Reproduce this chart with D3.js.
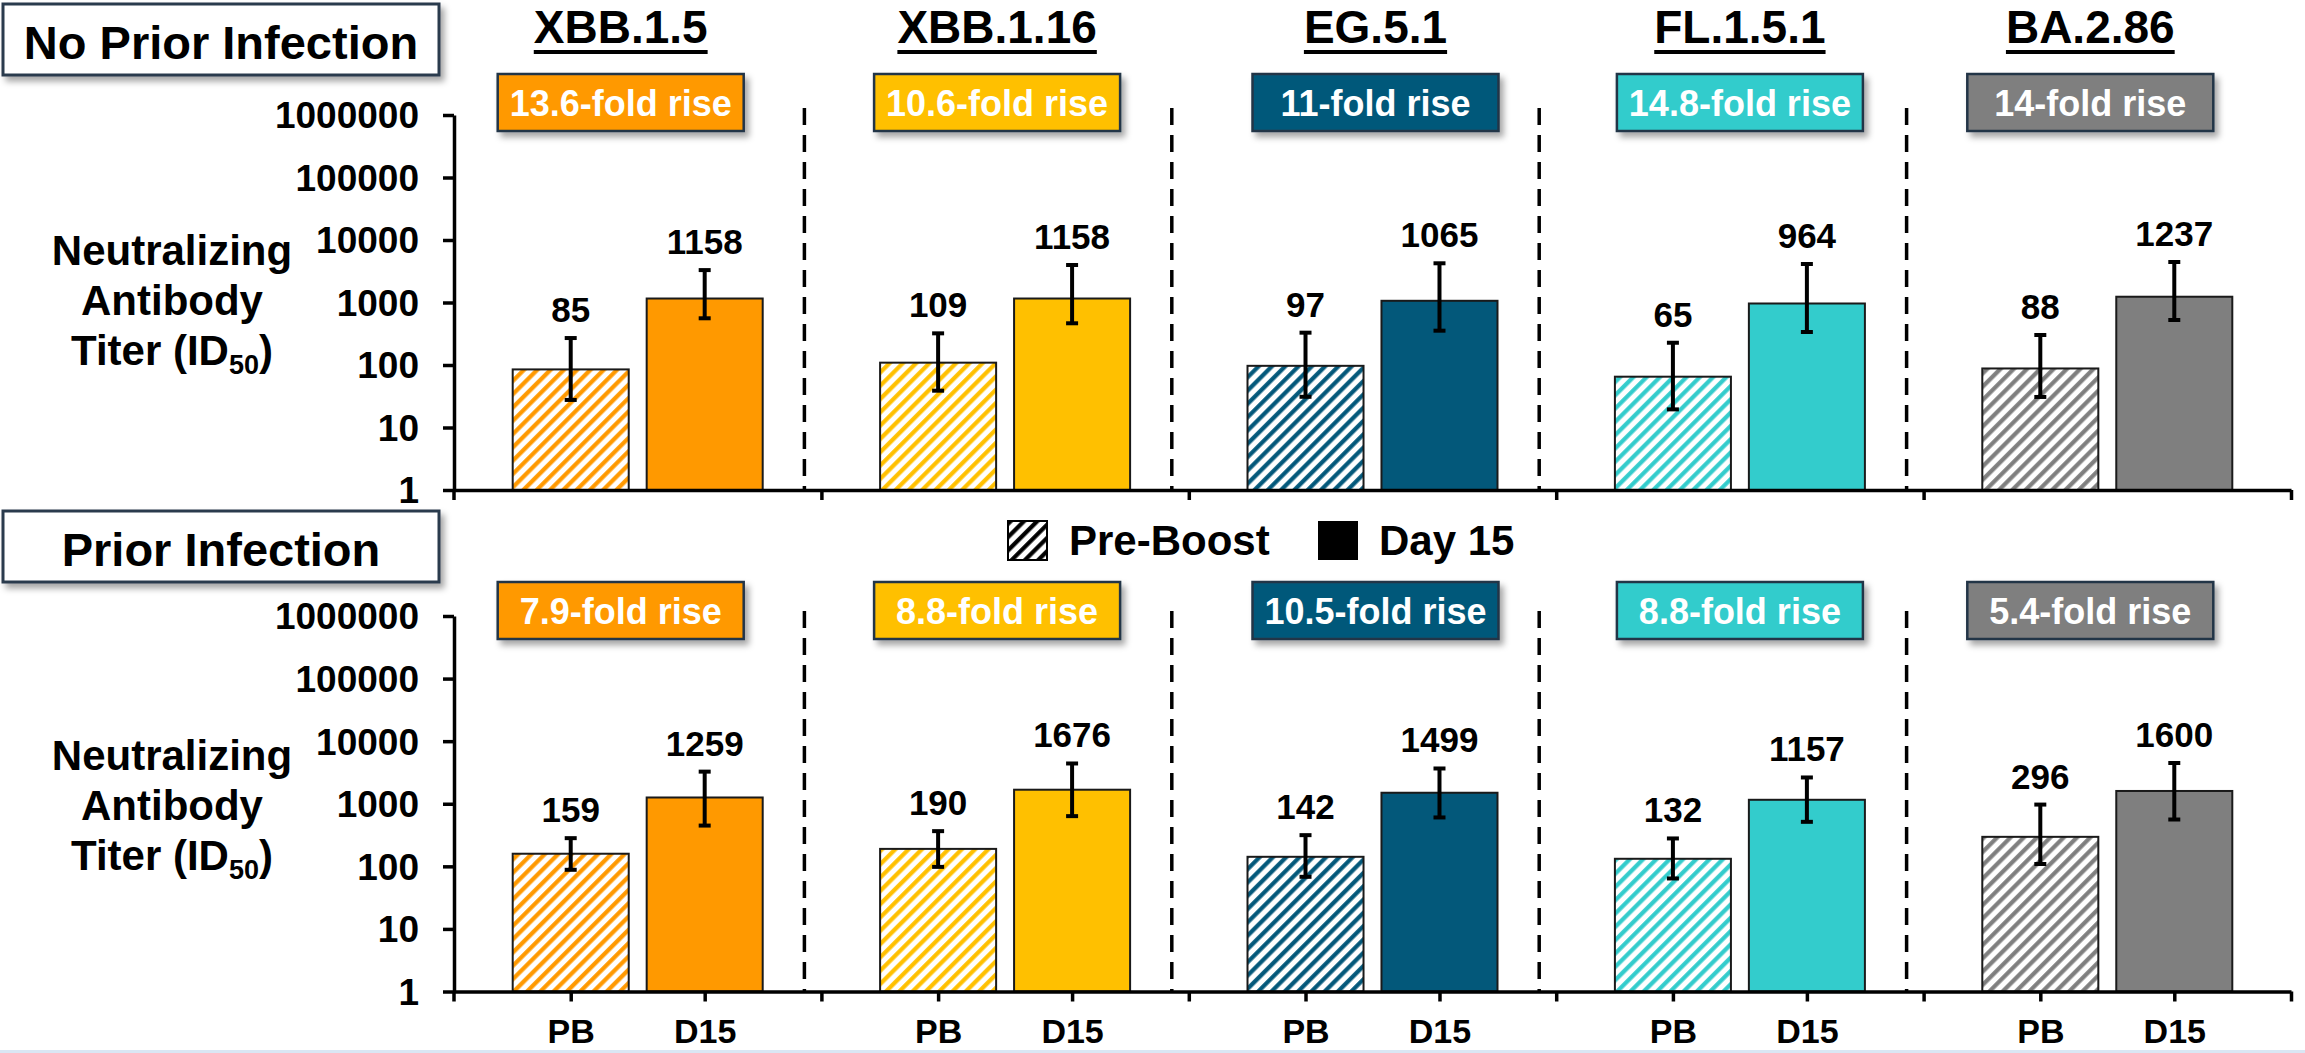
<!DOCTYPE html>
<html>
<head>
<meta charset="utf-8">
<script src="https://cdn.jsdelivr.net/npm/d3@7"></script>
<style>
  html, body { margin: 0; padding: 0; background: #ffffff; }
  svg { display: block; }
  text { font-family: "Liberation Sans", Arial, Helvetica, sans-serif; font-weight: bold; }
</style>
</head>
<body>
<svg id="chart" width="2305" height="1053"></svg>
<script>
// ---- data ----
const variants = ["XBB.1.5", "XBB.1.16", "EG.5.1", "FL.1.5.1", "BA.2.86"];
const timepoints = ["PB", "D15"];
const variantColors = ["#FF9900", "#FFC000", "#03587A", "#33CCCC", "#7F7F7F"];
const yTicks = [1, 10, 100, 1000, 10000, 100000, 1000000];

// No prior infection: geometric mean titers and error-bar ends
const noPriorPB = [85, 109, 97, 65, 88];
const noPriorPBLow = [27.6, 38.8, 31, 19.5, 30.8];
const noPriorPBHigh = [270, 321, 329, 227, 302];
const noPriorD15 = [1158, 1158, 1065, 964, 1237];
const noPriorD15Low = [559, 465, 354, 337, 525];
const noPriorD15High = [3300, 3980, 4240, 4130, 4446];
const noPriorFold = ["13.6", "10.6", "11", "14.8", "14"];

// Prior infection
const priorPB = [159, 190, 142, 132, 296];
const priorPBLow = [88, 98, 68, 64, 109];
const priorPBHigh = [282, 365, 315, 279, 970];
const priorD15 = [1259, 1676, 1499, 1157, 1600];
const priorD15Low = [448, 634, 604, 514, 560];
const priorD15High = [3260, 4400, 3660, 2630, 4480];
const priorFold = ["7.9", "8.8", "10.5", "8.8", "5.4"];

// ---- layout ----
const X0 = 454, X1 = 2291;
const labelShift = [-17, -8, 3, 0, -17];   // horizontal nudge of titles / fold boxes
const panels = [
  { name: "No Prior Infection", yBottom: 490, yTop: 115, boxY: 74, nameBoxY: 4, sepTop: 108, axisLabelY: 265, showCats: false,
    pb: noPriorPB, pbLo: noPriorPBLow, pbHi: noPriorPBHigh, d15: noPriorD15, d15Lo: noPriorD15Low, d15Hi: noPriorD15High, fold: noPriorFold },
  { name: "Prior Infection", yBottom: 991.5, yTop: 616, boxY: 582, nameBoxY: 511, sepTop: 611, axisLabelY: 770, showCats: true,
    pb: priorPB, pbLo: priorPBLow, pbHi: priorPBHigh, d15: priorD15, d15Lo: priorD15Low, d15Hi: priorD15High, fold: priorFold }
];

const svg = d3.select("#chart");
const defs = svg.append("defs");

defs.append("filter").attr("id", "shadow")
  .attr("x", "-10%").attr("y", "-20%").attr("width", "130%").attr("height", "160%")
  .append("feDropShadow")
  .attr("dx", 4).attr("dy", 5).attr("stdDeviation", 3)
  .attr("flood-color", "#000").attr("flood-opacity", 0.35);

function hatch(id, color) {
  const s = 9.4;
  const p = defs.append("pattern").attr("id", id)
    .attr("patternUnits", "userSpaceOnUse")
    .attr("width", s).attr("height", s)
    .attr("patternTransform", "rotate(45)");
  p.append("rect").attr("width", s).attr("height", s).attr("fill", "#fff");
  p.append("line").attr("x1", 2.2).attr("y1", 0).attr("x2", 2.2).attr("y2", s)
    .attr("stroke", color).attr("stroke-width", 4.2);
}
variantColors.forEach((c, i) => hatch("hatch" + i, c));
hatch("hatchLegend", "#000");

const xGroup = d3.scaleBand().domain(variants).range([X0, X1]).paddingInner(0).paddingOuter(0);
const xSub = d3.scaleBand().domain(timepoints).range([58.7, 308.7]).paddingInner(0.134).paddingOuter(0);
const groupCenter = v => xGroup(v) + xGroup.bandwidth() / 2;
const barCenter = (v, t) => xGroup(v) + xSub(t) + xSub.bandwidth() / 2;

panels.forEach(panel => {
  const g = svg.append("g");
  const y = d3.scaleLog().domain([1, 1e6]).range([panel.yBottom, panel.yTop]);

  // panel name box
  g.append("rect").attr("x", 3).attr("y", panel.nameBoxY).attr("width", 436).attr("height", 71)
    .attr("fill", "#fff").attr("stroke", "#2b3b4d").attr("stroke-width", 3)
    .attr("filter", "url(#shadow)");
  g.append("text").attr("x", 221).attr("y", panel.nameBoxY + 55)
    .attr("text-anchor", "middle").attr("font-size", 47).attr("fill", "#000")
    .text(panel.name);

  // y-axis title
  const yt = g.append("text").attr("text-anchor", "middle").attr("font-size", 42).attr("fill", "#000");
  yt.append("tspan").attr("x", 172).attr("y", panel.axisLabelY).text("Neutralizing");
  yt.append("tspan").attr("x", 172).attr("y", panel.axisLabelY + 50).text("Antibody");
  const t3 = g.append("text").attr("x", 172).attr("y", panel.axisLabelY + 100)
    .attr("text-anchor", "middle").attr("font-size", 42).attr("fill", "#000");
  t3.append("tspan").text("Titer (ID");
  t3.append("tspan").attr("font-size", 27).attr("dy", 9).text("50");
  t3.append("tspan").attr("dy", -9).text(")");

  // dashed separators between variants
  variants.slice(1).forEach(v => {
    g.append("line")
      .attr("x1", xGroup(v) - 17).attr("x2", xGroup(v) - 17)
      .attr("y1", panel.sepTop).attr("y2", panel.yBottom)
      .attr("stroke", "#000").attr("stroke-width", 3.5)
      .attr("stroke-dasharray", "17,10");
  });

  // bars
  variants.forEach((v, i) => {
    const rows = [
      { t: "PB", val: panel.pb[i], lo: panel.pbLo[i], hi: panel.pbHi[i], fill: "url(#hatch" + i + ")" },
      { t: "D15", val: panel.d15[i], lo: panel.d15Lo[i], hi: panel.d15Hi[i], fill: variantColors[i] }
    ];
    rows.forEach(r => {
      const x = xGroup(v) + xSub(r.t);
      g.append("rect")
        .attr("x", x).attr("y", y(r.val))
        .attr("width", xSub.bandwidth()).attr("height", y(1) - y(r.val))
        .attr("fill", r.fill).attr("stroke", "#1a1a1a").attr("stroke-width", 2);
      const cx = barCenter(v, r.t);
      g.append("line").attr("x1", cx).attr("x2", cx).attr("y1", y(r.hi)).attr("y2", y(r.lo))
        .attr("stroke", "#000").attr("stroke-width", 4);
      [r.hi, r.lo].forEach(e => {
        g.append("line").attr("x1", cx - 6).attr("x2", cx + 6).attr("y1", y(e)).attr("y2", y(e))
          .attr("stroke", "#000").attr("stroke-width", 4);
      });
      g.append("text").attr("x", cx).attr("y", y(r.hi) - 16)
        .attr("text-anchor", "middle").attr("font-size", 35).attr("fill", "#000")
        .text(r.val);
    });

    // fold-rise box
    const bx = groupCenter(v) + labelShift[i];
    g.append("rect").attr("x", bx - 123).attr("y", panel.boxY).attr("width", 246).attr("height", 57)
      .attr("fill", variantColors[i]).attr("stroke", "#243447").attr("stroke-width", 2.5)
      .attr("filter", "url(#shadow)");
    g.append("text").attr("x", bx).attr("y", panel.boxY + 42)
      .attr("text-anchor", "middle").attr("font-size", 36).attr("fill", "#fff")
      .text(panel.fold[i] + "-fold rise");
  });

  // y axis
  const yAxis = d3.axisLeft(y).tickValues(yTicks).tickFormat(d3.format("d"))
    .tickSize(11).tickSizeOuter(0).tickPadding(24);
  const ya = g.append("g").attr("transform", `translate(${X0},0)`).call(yAxis);
  ya.select(".domain").attr("stroke", "#000").attr("stroke-width", 3.5);
  ya.selectAll(".tick line").attr("stroke", "#000").attr("stroke-width", 3.5);
  ya.selectAll(".tick text").attr("font-size", 37).attr("fill", "#000")
    .attr("font-family", "'Liberation Sans', Arial, sans-serif").attr("font-weight", "bold")
    .attr("dy", "0.35em");
  g.append("line").attr("x1", X0).attr("x2", X0).attr("y1", panel.yBottom).attr("y2", panel.yBottom + 10)
    .attr("stroke", "#000").attr("stroke-width", 3.5);

  // x axis: boundary ticks
  const boundaries = variants.slice(1).map(v => xGroup(v)).concat([X1]);
  const xScale = d3.scaleIdentity().domain([X0, X1]);
  const xa = g.append("g").attr("transform", `translate(0,${panel.yBottom})`)
    .call(d3.axisBottom(xScale).tickValues(boundaries).tickFormat("").tickSize(10).tickSizeOuter(0));
  xa.select(".domain").attr("stroke", "#000").attr("stroke-width", 3.5);
  xa.selectAll(".tick line").attr("stroke", "#000").attr("stroke-width", 3.5);

  // x axis: category ticks and labels
  if (panel.showCats) {
    const centers = [];
    const names = [];
    variants.forEach(v => timepoints.forEach(t => { centers.push(barCenter(v, t)); names.push(t); }));
    const xc = g.append("g").attr("transform", `translate(0,${panel.yBottom})`)
      .call(d3.axisBottom(xScale).tickValues(centers)
        .tickFormat((d, i) => names[i]).tickSize(10).tickSizeOuter(0).tickPadding(17));
    xc.select(".domain").remove();
    xc.selectAll(".tick line").attr("stroke", "#000").attr("stroke-width", 3.5);
    xc.selectAll(".tick text").attr("font-size", 34).attr("fill", "#000")
      .attr("font-family", "'Liberation Sans', Arial, sans-serif").attr("font-weight", "bold");
  }
});

// variant titles
variants.forEach((v, i) => {
  const cx = groupCenter(v) + labelShift[i];
  const t = svg.append("text").attr("x", cx).attr("y", 43)
    .attr("text-anchor", "middle").attr("font-size", 46).attr("fill", "#000").text(v);
  const w = t.node().getComputedTextLength();
  svg.append("rect").attr("x", cx - w / 2).attr("y", 50).attr("width", w).attr("height", 4).attr("fill", "#000");
});

// legend
const legend = svg.append("g");
legend.append("rect").attr("x", 1008).attr("y", 521).attr("width", 39).attr("height", 39)
  .attr("fill", "url(#hatchLegend)").attr("stroke", "#000").attr("stroke-width", 2);
legend.append("text").attr("x", 1069).attr("y", 555).attr("font-size", 42).attr("fill", "#000").text("Pre-Boost");
legend.append("rect").attr("x", 1318).attr("y", 521).attr("width", 40).attr("height", 39).attr("fill", "#000");
legend.append("text").attr("x", 1379).attr("y", 555).attr("font-size", 42).attr("fill", "#000").text("Day 15");

// thin edge strip along the bottom
svg.append("rect").attr("x", 0).attr("y", 1050).attr("width", 2305).attr("height", 3).attr("fill", "#dae6f4");
</script>
</body>
</html>
